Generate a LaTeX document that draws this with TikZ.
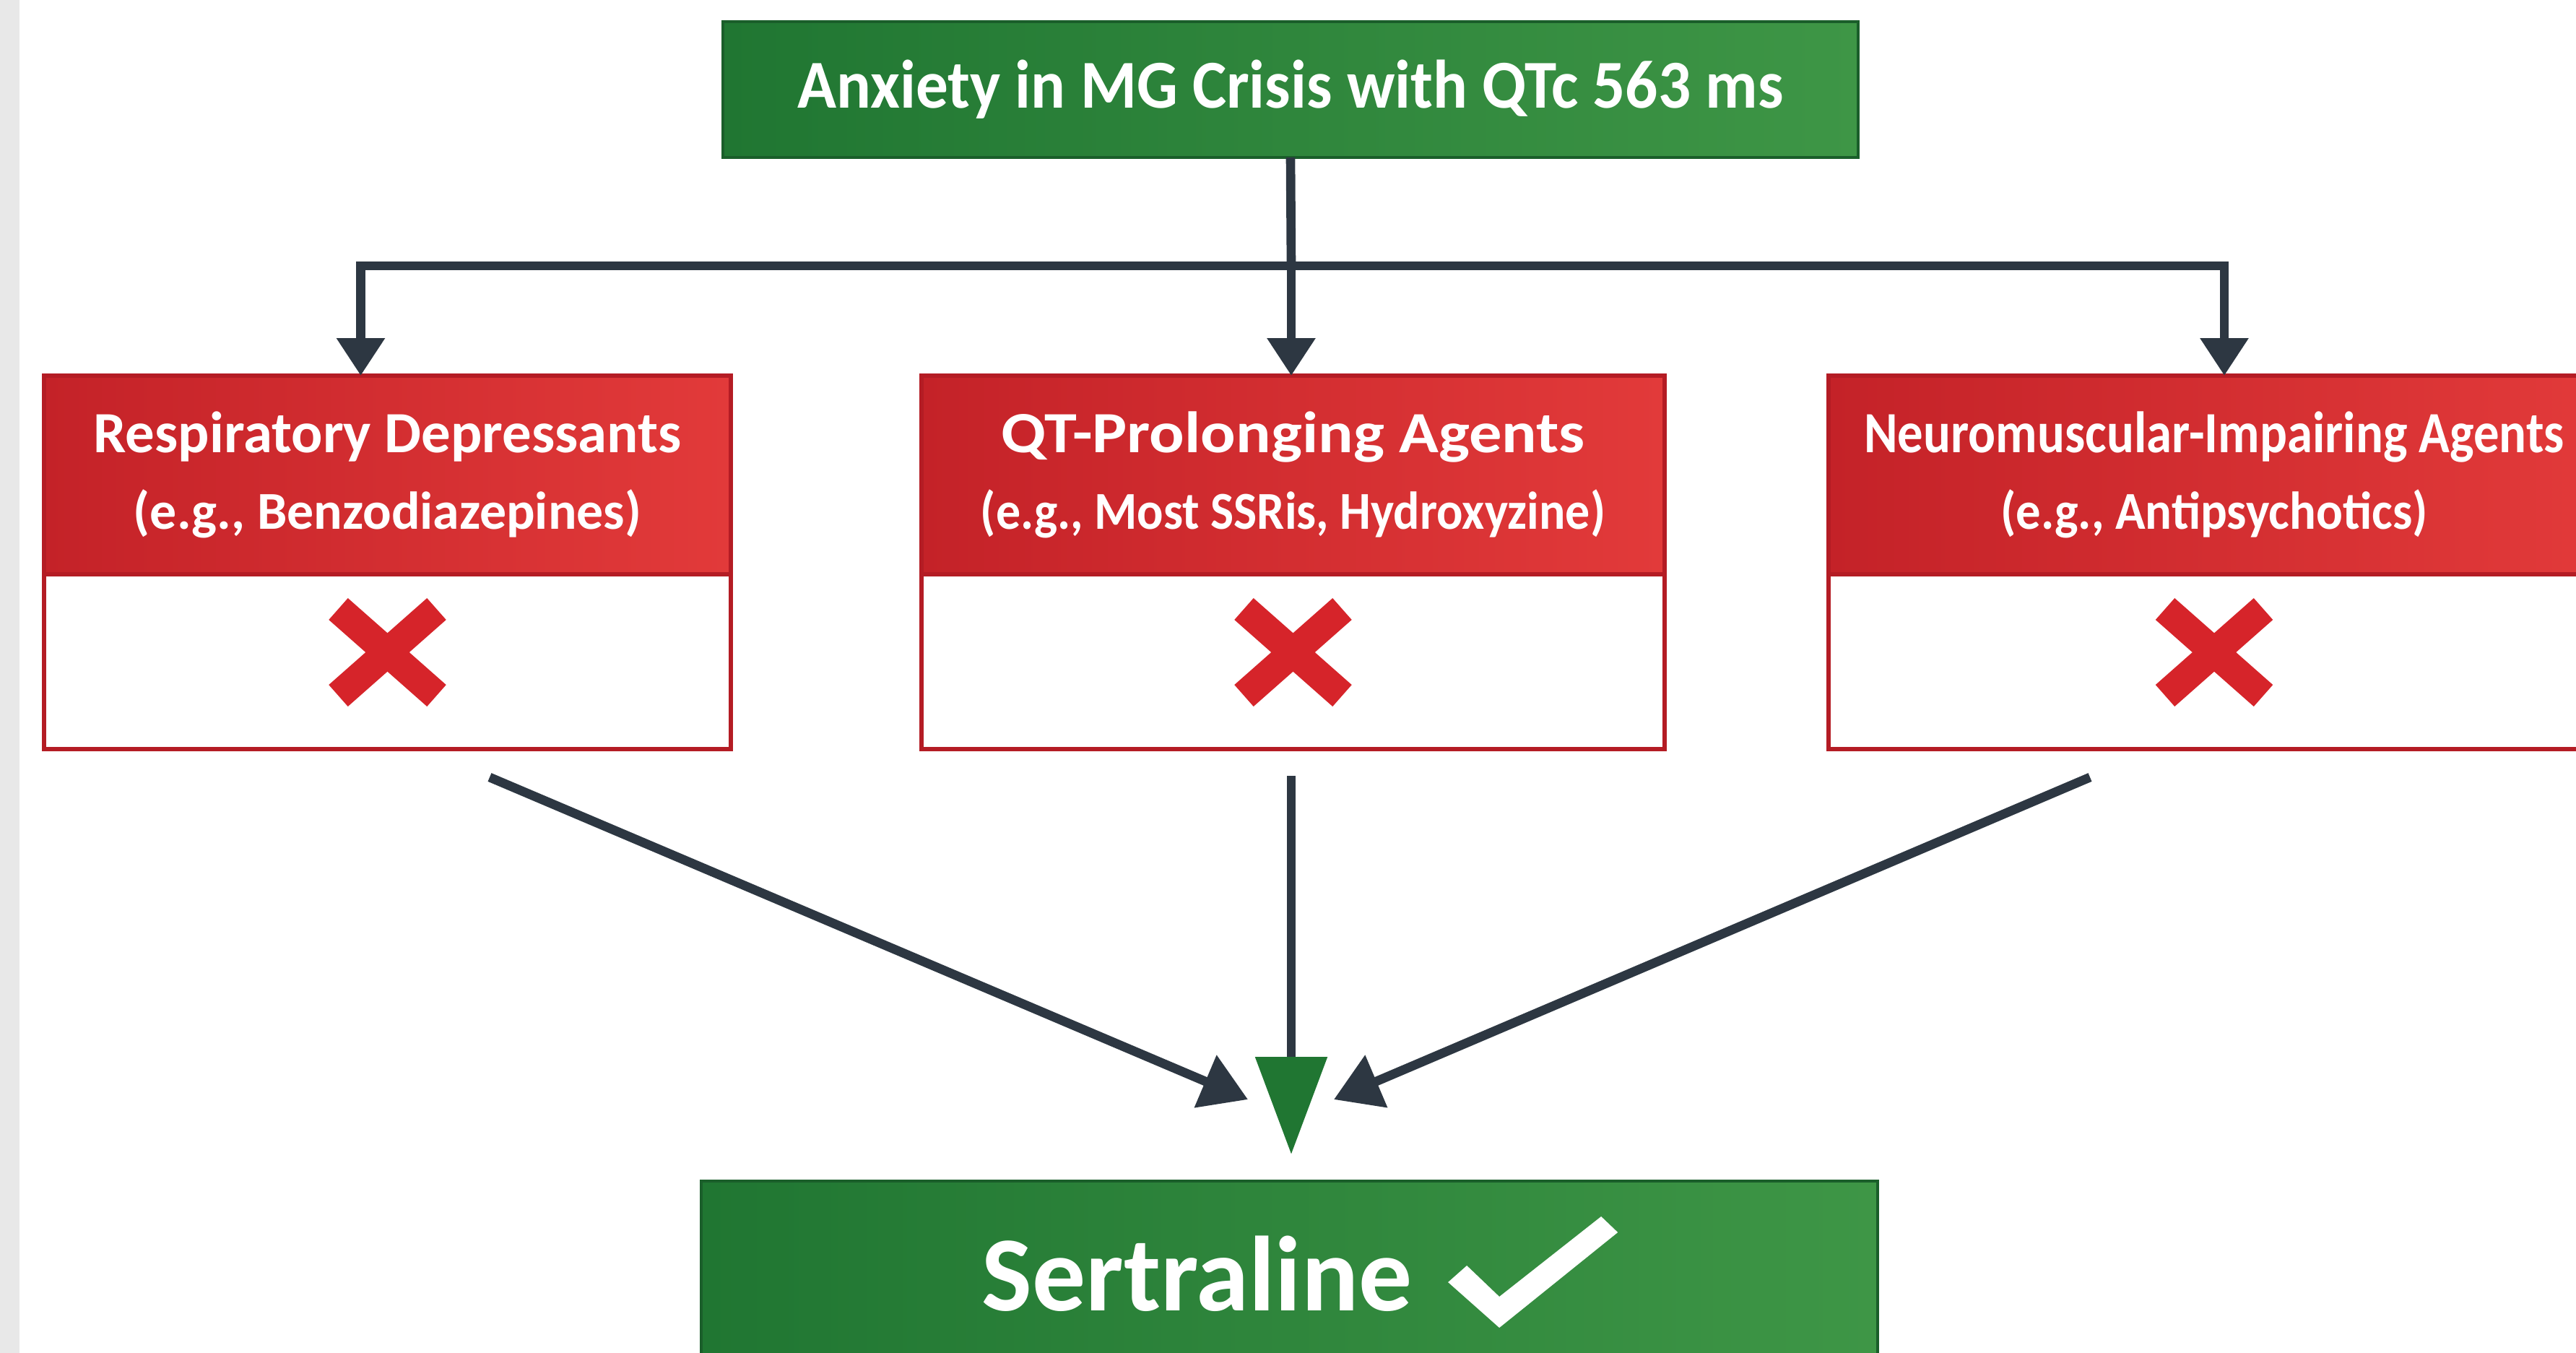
\documentclass[tikz,border=0pt]{standalone}
\usepackage{fontspec}
\setmainfont{Carlito}
\usetikzlibrary{arrows.meta, positioning, calc}
\definecolor{flowgray}{RGB}{45,55,66}
\definecolor{hdrred}{RGB}{196,34,40}
\definecolor{hdrredlight}{RGB}{226,58,58}
\definecolor{edgered}{RGB}{180,28,36}
\definecolor{xred}{RGB}{214,36,42}
\definecolor{boxgreen}{RGB}{32,118,50}
\definecolor{boxgreenlight}{RGB}{62,150,70}
\definecolor{edgegreen}{RGB}{26,94,42}
\definecolor{stripgray}{RGB}{232,232,232}

\begin{document}
\begin{tikzpicture}[
  wire/.style={draw=flowgray, line width=3.6pt},
  flow/.style={wire, -{Triangle[width=0.64cm,length=0.52cm]}},
  merge/.style={wire, -{Triangle[width=0.76cm,length=0.64cm]}},
  greenbox/.style={draw=edgegreen, line width=1.4pt, left color=boxgreen, right color=boxgreenlight,
    inner sep=0pt, outer sep=0pt, text=white},
  redhead/.style={draw=edgered, line width=1.8pt, left color=hdrred, right color=hdrredlight,
    inner sep=0pt, outer sep=0pt, minimum height=2.75cm, text=white, align=center,
    font=\bfseries\fontsize{23}{30}\selectfont},
  redlow/.style={draw=edgered, line width=1.8pt, fill=white, inner sep=0pt, outer sep=0pt,
    minimum height=2.42cm}
]
  % page, with the grey strip on the left
  \path[use as bounding box, clip] (0,0) rectangle (35.67,-18.73);
  \fill[white] (0,0) rectangle (35.67,-18.73);
  \fill[stripgray] (0,0) rectangle (0.27,-18.73);

  % question
  \node[greenbox, minimum width=15.72cm, minimum height=1.88cm,
        font=\bfseries\fontsize{27}{32}\selectfont] (crisis) at (17.87,-1.24)
        {\scalebox{0.94}[1]{Anxiety in MG Crisis with QTc 563 ms}};

  % the three excluded classes
  \node[redhead, minimum width=9.51cm] (resp) at (5.365,-6.575)
        {Respiratory Depressants\\{\fontsize{21}{30}\selectfont (e.g., Benzodiazepines)}};
  \node[redhead, minimum width=10.29cm] (qt) at (17.905,-6.575)
        {\scalebox{1.12}[1]{QT-Prolonging Agents}\\
         {\fontsize{21}{30}\selectfont\scalebox{0.92}[1]{(e.g., Most SSRis, Hydroxyzine)}}};
  \node[redhead, minimum width=10.68cm] (nm) at (30.66,-6.575)
        {\scalebox{0.875}[1]{Neuromuscular-Impairing Agents}\\
         {\fontsize{21}{30}\selectfont\scalebox{0.93}[1]{(e.g., Antipsychotics)}}};
  \node[redlow, minimum width=9.51cm, below=0pt of resp] (resp-low) {};
  \node[redlow, minimum width=10.29cm, below=0pt of qt] (qt-low) {};
  \node[redlow, minimum width=10.68cm, below=0pt of nm] (nm-low) {};

  % red crosses
  \foreach \cls in {resp-low, qt-low, nm-low} {
    \draw[xred, line width=0.4cm] ($(\cls.center)+(-0.68,0.73)$) -- ($(\cls.center)+(0.68,-0.47)$);
    \draw[xred, line width=0.4cm] ($(\cls.center)+(0.68,0.73)$) -- ($(\cls.center)+(-0.68,-0.47)$);
  }

  % answer
  \node[greenbox, minimum width=16.29cm, minimum height=2.7cm] (sertbox) at (17.855,-17.70) {};
  \node[text=white, inner sep=0pt, font=\bfseries\fontsize{42}{48}\selectfont] (sert)
        at (16.575,-17.63) {Sertraline};
  \fill[white] ($(sert.east)+(0.49,-0.12)$) -- ($(sert.east)+(0.75,0.11)$)
    -- ($(sert.east)+(1.20,-0.32)$) -- ($(sert.east)+(2.61,0.79)$)
    -- ($(sert.east)+(2.84,0.57)$) -- ($(sert.east)+(1.20,-0.75)$) -- cycle;

  % branching from the question
  \coordinate (split) at (17.88,-3.68);
  \draw[wire] (crisis.south) -- (split);
  \draw[flow] (split) -| ([xshift=-3.7mm]resp.north);
  \draw[flow] (split) -- (split |- qt.north);
  \draw[flow] (split) -| ([xshift=1.4mm]nm.north);

  % converging on the answer
  \coordinate (left-from) at (6.78,-10.76);
  \coordinate (left-tip) at (17.28,-15.22);
  \coordinate (mid-from) at (17.88,-10.74);
  \coordinate (mid-tip) at (17.88,-15.98);
  \coordinate (right-from) at (28.94,-10.76);
  \coordinate (right-tip) at (18.47,-15.22);
  \draw[merge] (left-from) -- (left-tip);
  \draw[merge] (right-from) -- (right-tip);
  \draw[wire, -{Triangle[width=0.97cm,length=1.35cm,color=boxgreen,fill=boxgreen]}] (mid-from) -- (mid-tip);
\end{tikzpicture}
\end{document}
